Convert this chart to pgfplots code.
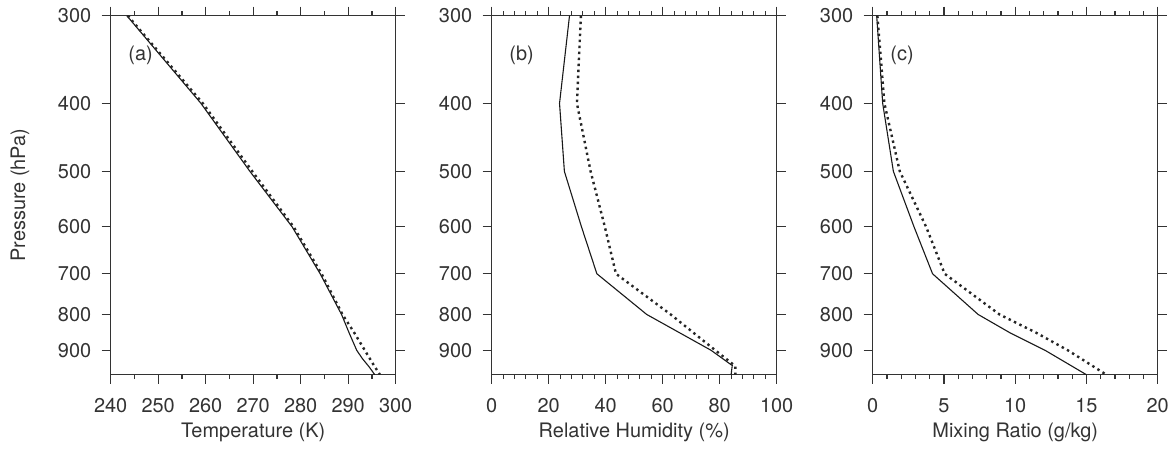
\documentclass[border=0pt]{standalone}
\usepackage{pgfplots}
\pgfplotsset{compat=1.18}
\usepackage{fontspec}
\setmainfont{TeX Gyre Heros}
\pgfplotsset{
  prof/.style={
    anchor=south west, scale only axis, width=285bp, height=359bp,
    y dir=reverse, ymin=300, ymax=975,
    ytick={300,400,500,600,700,800,900}, yticklabels={300,400,500,600,700,800,900},
    yminorticks=false,
    tick align=outside, major tick length=9bp, minor tick length=4.5bp,
    axis line style={line width=1.1bp, black!80},
    every tick/.style={line width=1.1bp, black!80},
    tick label style={font=\fontsize{20}{24}\selectfont, text=black!80},
    xticklabel shift=11.5bp,
    yticklabel shift=7bp,
    label style={font=\fontsize{20}{24}\selectfont, text=black!80},
    xlabel style={at={(axis description cs:0.5,-0.162)}, anchor=center},
    ylabel style={at={(axis description cs:-0.318,0.5)}, anchor=center},
  },
  sol/.style={black!90, line width=1.1bp, no marks},
  dot/.style={black!85, line width=2.4bp, dash pattern=on 2.4bp off 3.6bp, no marks},
}
\begin{document}
\begin{tikzpicture}
\useasboundingbox (0bp,0bp) rectangle (1176bp,449bp);
% (a) Temperature
\begin{axis}[ymode=log, prof, at={(110.7bp,74.3bp)}, /pgf/number format/assume math mode=true,
  xmin=240, xmax=300, xtick={240,250,...,300}, minor x tick num=1,
  xlabel={Temperature (K)}, ylabel={Pressure (hPa)}]
\addplot[sol] coordinates {(243.4,300) (259.0,400) (269.3,500) (278.2,600) (284.1,700) (288.6,800) (290.2,850) (291.8,900) (293.0,925) (294.4,950) (295.6,975)};
\addplot[dot] coordinates {(243.6,300) (259.4,400) (269.8,500) (278.5,600) (284.4,700) (288.8,800) (291.3,850) (293.5,900) (295.6,950) (296.7,975)};
\node[anchor=west, font=\fontsize{20}{24}\selectfont, text=black!80] at (rel axis cs:0.05,0.889) {(a)};
\end{axis}
% (b) Relative humidity
\begin{axis}[ymode=log, prof, at={(491.7bp,74.3bp)}, /pgf/number format/assume math mode=true,
  xmin=0, xmax=100, xtick={0,20,...,100}, minor x tick num=4,
  xlabel={Relative Humidity (\%)}]
\addplot[sol] coordinates {(27.3,300) (23.8,400) (25.5,500) (31.5,600) (36.9,700) (54.4,800) (77.0,900) (84.4,946) (84.0,975)};
\addplot[dot] coordinates {(31.3,300) (29.9,400) (34.7,500) (39.7,600) (43.6,700) (62.8,800) (78.5,900) (85.5,948) (85.5,975)};
\node[anchor=west, font=\fontsize{20}{24}\selectfont, text=black!80] at (rel axis cs:0.05,0.889) {(b)};
\end{axis}
% (c) Mixing ratio
\begin{axis}[ymode=log, prof, at={(872.7bp,74.3bp)}, /pgf/number format/assume math mode=true,
  xmin=0, xmax=20, xtick={0,5,...,20}, minor x tick num=4,
  xlabel={Mixing Ratio (g/kg)}]
\addplot[sol] coordinates {(0.28,300) (0.7,400) (1.45,500) (2.9,600) (4.2,700) (7.4,800) (9.65,850) (12.1,900) (15.0,975)};
\addplot[dot] coordinates {(0.33,300) (0.82,400) (1.9,500) (3.75,600) (5.05,700) (8.9,800) (11.5,850) (13.7,900) (16.4,975)};
\node[anchor=west, font=\fontsize{20}{24}\selectfont, text=black!80] at (rel axis cs:0.05,0.889) {(c)};
\end{axis}
\end{tikzpicture}
\end{document}
